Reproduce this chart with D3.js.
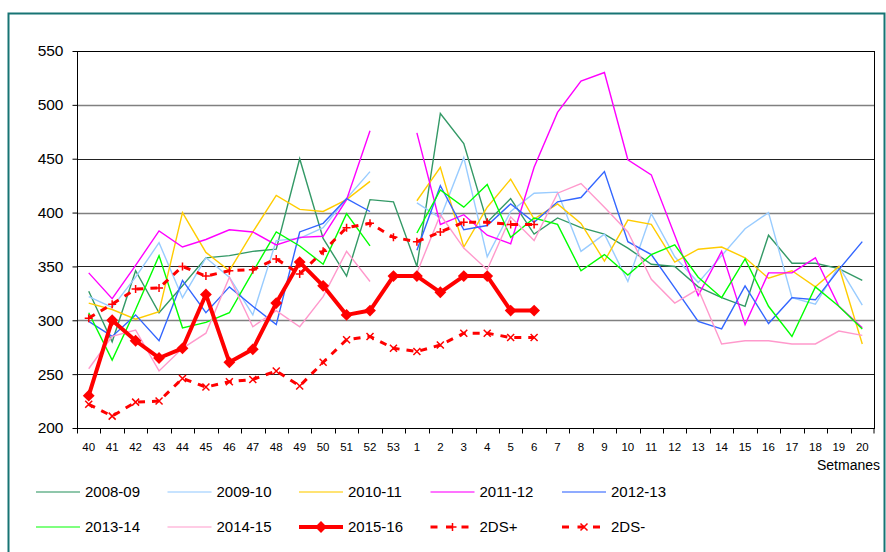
<!DOCTYPE html>
<html>
<head>
<meta charset="utf-8">
<script src="https://cdn.jsdelivr.net/npm/d3@7"></script>
<style>
    body { margin: 0; background: #fff; }
    svg text { font-family: "Liberation Sans", Arial, sans-serif; fill: #000; }
</style>
</head>
<body>
<svg id="chart" width="886" height="552"></svg>
<script>
// week numbers on the x axis (season runs week 40 -> week 20)
const weeks = ['40', '41', '42', '43', '44', '45', '46', '47', '48', '49', '50', '51', '52', '53',
    '1', '2', '3', '4', '5', '6', '7', '8', '9', '10', '11', '12', '13', '14', '15', '16', '17', '18', '19', '20'];
const yTicks = [200, 250, 300, 350, 400, 450, 500, 550];

// values, null = no point
const s2008 = [327, 280, 346, 307, 332, 358, 360, 364, 366, 450, 376, 341, 412, 410,
    350, 492, 464, 391, 413, 380, 395, 386, 380, 367, 352, 350, 331, 321, 313, 379, 353, 353, 348, 337];
const s2009 = [322, 312, 340, 372, 321, 358, 340, 305, 374, 376, 386, 413, 438, null,
    409, 395, 451, 359, 401, 418, 419, 364, 380, 336, 399, 359, 335, 360, 385, 400, 321, 315, 350, 314];
const s2010 = [316, 310, 301, 308, 400, 363, 346, 382, 416, 403, 401, 412, 429, null,
    411, 442, 368, 405, 431, 394, 408, 390, 355, 393, 389, 354, 366, 368, 358, 339, 346, 331, 350, 278];
const s2011 = [344, 320, 351, 383, 368, 375, 384, 382, 370, 377, 378, 412, 476, null,
    474, 389, 398, 379, 371, 442, 493, 522, 530, 449, 435, 379, 323, 364, 296, 344, 344, 358, 313, 293];
const s2012 = [299, 285, 305, 281, 337, 307, 331, 313, 296, 382, 390, 413, 401, null,
    365, 425, 384, 388, 408, 391, 410, 414, 438, 373, 361, 330, 299, 292, 332, 297, 321, 319, 347, 373];
const s2013 = [307, 263, 310, 360, 293, 298, 307, 345, 382, 369, 352, 399, 369, null,
    381, 421, 405, 426, 377, 395, 389, 346, 361, 342, 361, 370, 340, 321, 357, 313, 285, 331, 313, 292];
const s2014 = [255, 285, 291, 253, 274, 288, 340, 294, 309, 294, 322, 364, 336, null,
    344, 398, 367, 347, 396, 374, 418, 427, 405, 382, 338, 316, 329, 278, 281, 281, 278, 278, 290, 286];
const s2015 = [230, 300, 281, 265, 274, 324, 261, 273, 316, 354, 332, 305, 309, 341,
    341, 326, 341, 341, 309, 309];
const ds2plus = [302, 315, 329, 330, 350, 341, 346, 347, 357, 343, 364, 386, 390, 377,
    373, 382, 391, 391, 389, 389];
const ds2minus = [222, 211, 224, 225, 246, 238, 243, 245, 253, 239, 261, 282, 285, 274,
    271, 277, 288, 288, 284, 284];

const thinSeries = [
    { name: '2008-09', values: s2008, color: '#339966' },
    { name: '2009-10', values: s2009, color: '#99ccff' },
    { name: '2010-11', values: s2010, color: '#ffcc00' },
    { name: '2011-12', values: s2011, color: '#ff00ff' },
    { name: '2012-13', values: s2012, color: '#3366ff' },
    { name: '2013-14', values: s2013, color: '#00ff00' },
    { name: '2014-15', values: s2014, color: '#ff99cc' }
];

const svg = d3.select('#chart');
const plot = { left: 77, right: 874, top: 51, bottom: 428 };

// outer frame
svg.append('rect')
    .attr('x', 8.5).attr('y', 13.5)
    .attr('width', 876).attr('height', 600)
    .attr('fill', 'none')
    .attr('stroke', '#177474')
    .attr('stroke-width', 2);

const x = d3.scaleBand().domain(weeks).range([plot.left, plot.right]).paddingInner(0).paddingOuter(0);
const y = d3.scaleLinear().domain([200, 550]).range([plot.bottom, plot.top]);
const cx = d => x(d) + x.bandwidth() / 2;

// gridlines (alternating dark / gray like the original render)
svg.append('g')
    .selectAll('line')
    .data(yTicks.filter(t => t > 200 && t < 550))
    .join('line')
    .attr('x1', plot.left).attr('x2', plot.right)
    .attr('y1', d => Math.round(y(d)) + 0.5).attr('y2', d => Math.round(y(d)) + 0.5)
    .attr('stroke', (d, i) => i % 2 === 0 ? '#222' : '#808080')
    .attr('stroke-width', (d, i) => i % 2 === 0 ? 1 : 1.6);

// plot frame
svg.append('rect')
    .attr('x', plot.left + 0.5).attr('y', plot.top + 0.5)
    .attr('width', plot.right - plot.left).attr('height', plot.bottom - plot.top)
    .attr('fill', 'none')
    .attr('stroke', '#000')
    .attr('stroke-width', 1);

// y axis
const yAxis = svg.append('g')
    .attr('transform', `translate(${plot.left + 0.5},0)`)
    .call(d3.axisLeft(y).tickValues(yTicks).tickSize(5).tickPadding(9));
yAxis.select('.domain').remove();
yAxis.selectAll('text').style('font-size', '15.5px');

// x axis: ticks sit between categories
const xAxis = svg.append('g').attr('transform', `translate(0,${plot.bottom + 0.5})`);
xAxis.append('line')
    .attr('x1', plot.left).attr('x2', plot.right)
    .attr('stroke', '#000');
xAxis.selectAll('line.tick')
    .data(weeks.concat(['end']))
    .join('line')
    .attr('class', 'tick')
    .attr('x1', d => d === 'end' ? plot.right : Math.round(x(d)) + 0.5)
    .attr('x2', d => d === 'end' ? plot.right : Math.round(x(d)) + 0.5)
    .attr('y1', 0).attr('y2', 5)
    .attr('stroke', '#000');
xAxis.selectAll('text')
    .data(weeks)
    .join('text')
    .attr('x', d => cx(d))
    .attr('y', 22)
    .attr('text-anchor', 'middle')
    .style('font-size', '11.5px')
    .text(d => d);

svg.append('text')
    .attr('x', 880).attr('y', 470)
    .attr('text-anchor', 'end')
    .style('font-size', '14px')
    .text('Setmanes');

// lines
const line = d3.line()
    .defined(d => d[1] != null)
    .x(d => cx(d[0]))
    .y(d => y(d[1]));
const pairs = vals => vals.map((v, i) => [weeks[i], v]);

const lines = svg.append('g');
thinSeries.forEach(s => {
    lines.append('path')
        .datum(pairs(s.values))
        .attr('d', line)
        .attr('fill', 'none')
        .attr('stroke', s.color)
        .attr('stroke-width', 1.4);
});

const plusPath = 'M-4,0H4M0,-4V4';
const crossPath = 'M-3.5,-3.5L3.5,3.5M-3.5,3.5L3.5,-3.5';

function dashed(vals, marker) {
    lines.append('path')
        .datum(pairs(vals))
        .attr('d', line)
        .attr('fill', 'none')
        .attr('stroke', '#ff0000')
        .attr('stroke-width', 3)
        .attr('stroke-dasharray', '7,7');
    lines.append('g')
        .selectAll('path')
        .data(pairs(vals))
        .join('path')
        .attr('transform', d => `translate(${cx(d[0])},${y(d[1])})`)
        .attr('d', marker)
        .attr('stroke', '#ff0000')
        .attr('stroke-width', 1.5)
        .attr('fill', 'none');
}
dashed(ds2plus, plusPath);
dashed(ds2minus, crossPath);

const diamond = d3.symbol(d3.symbolSquare, 70);
lines.append('path')
    .datum(pairs(s2015))
    .attr('d', line)
    .attr('fill', 'none')
    .attr('stroke', '#ff0000')
    .attr('stroke-width', 4)
    .attr('stroke-linejoin', 'round');
lines.append('g')
    .selectAll('path')
    .data(pairs(s2015))
    .join('path')
    .attr('transform', d => `translate(${cx(d[0])},${y(d[1])}) rotate(45)`)
    .attr('d', diamond)
    .attr('fill', '#ff0000');

// legend
const legendItems = thinSeries.map(s => ({ name: s.name, color: s.color, kind: 'thin' }))
    .concat([
        { name: '2015-16', kind: 'main' },
        { name: '2DS+', kind: 'plus' },
        { name: '2DS-', kind: 'minus' }
    ]);
// first row swatches render paler in the original
const legend = svg.append('g');
legendItems.forEach((d, i) => {
    const row = i < 5 ? 0 : 1;
    const col = i < 5 ? i : i - 5;
    const g = legend.append('g')
        .attr('transform', `translate(${36 + col * 131.5},${row === 0 ? 492 : 527})`);
    if (d.kind === 'thin') {
        g.append('line')
            .attr('x1', 0).attr('x2', 44)
            .attr('stroke', d.color)
            .attr('stroke-width', row === 0 ? 2 : 1.2)
            .attr('stroke-opacity', row === 0 ? 0.55 : 1);
    } else if (d.kind === 'main') {
        g.append('line').attr('x1', 0).attr('x2', 44)
            .attr('stroke', '#ff0000').attr('stroke-width', 4);
        g.append('path').attr('transform', 'translate(22,0) rotate(45)')
            .attr('d', diamond).attr('fill', '#ff0000');
    } else {
        g.append('line').attr('x1', 0).attr('x2', 44)
            .attr('stroke', '#ff0000').attr('stroke-width', 3)
            .attr('stroke-dasharray', '7,8.5');
        g.append('path').attr('transform', 'translate(22,0)')
            .attr('d', d.kind === 'plus' ? plusPath : crossPath)
            .attr('stroke', '#ff0000').attr('stroke-width', 1.5);
    }
    g.append('text')
        .attr('x', 49).attr('y', 0)
        .attr('dy', '0.36em')
        .style('font-size', '15px')
        .text(d.name);
});
</script>
</body>
</html>
